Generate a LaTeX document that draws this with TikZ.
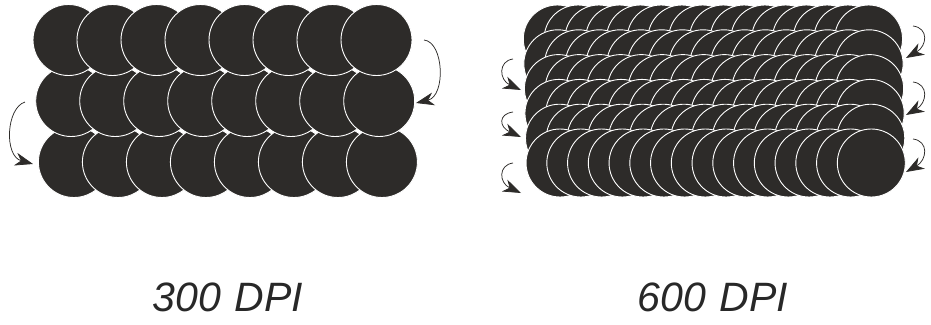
\documentclass[tikz,border=0pt]{standalone}
\usepackage{fontspec}
\setmainfont{Liberation Sans}
\usetikzlibrary{arrows.meta,calc}
\definecolor{ink}{RGB}{45,43,41}
\definecolor{txt}{RGB}{40,40,40}
\tikzset{
  dot/.style={fill=ink, draw=white, line width=0.9pt},
  turn/.style={draw=ink, line width=0.75pt, -{Stealth[length=18pt,width=13pt,inset=5.5pt]}},
  dpitext/.style={font=\fontsize{41}{41}\selectfont\itshape, text=txt, anchor=base, inner sep=0pt}
}
\begin{document}
\begin{tikzpicture}[x=1pt,y=-1pt]
\useasboundingbox (0,0) rectangle (931,324);
% 300 DPI panel: bottom row first, top row last
\foreach \r in {2,1,0}{
  \foreach \c in {0,...,7}{
    \path[dot] ({68.5+2.7*\r+44*\c},{40+61*\r}) circle (35.5);
  }
}
% 600 DPI panel: top row first
\foreach \r in {0,...,5}{
  \foreach \c in {0,...,15}{
    \path[dot] ({557.3+0.55*\r+20.75*\c},{39+24.8*\r}) circle (34);
  }
}
% arrows, 300 DPI
\coordinate (a1s) at (424,40);  \coordinate (a1e) at (416,103);
\coordinate (a2s) at (25,102);  \coordinate (a2e) at (33,164);
\draw[turn] (a1s) .. controls (444,42) and (446,96) .. (a1e);
\draw[turn] (a2s) .. controls (6,108) and (4,156) .. (a2e);
% arrows, 600 DPI right side
\coordinate (r1s) at (913,26);  \coordinate (r1e) at (906,58);
\coordinate (r2s) at (913,82);  \coordinate (r2e) at (906,115);
\coordinate (r3s) at (913,139); \coordinate (r3e) at (906,172);
\foreach \s/\e in {r1s/r1e,r2s/r2e,r3s/r3e}{
  \draw[turn] (\s) .. controls ($(\s)+(16,2)$) and ($(\e)+(21,-12)$) .. (\e);
}
% arrows, 600 DPI left side
\coordinate (l1s) at (513,59);  \coordinate (l1e) at (521,90);
\coordinate (l2s) at (513,112); \coordinate (l2e) at (521,137);
\coordinate (l3s) at (513,163); \coordinate (l3e) at (521,193);
\foreach \s/\e in {l1s/l1e,l2s/l2e,l3s/l3e}{
  \draw[turn] (\s) .. controls ($(\s)+(-15,2)$) and ($(\e)+(-22,-10)$) .. (\e);
}
% labels
\node[dpitext] (t300) at (228,311) {300\hspace{0.33em}DPI};
\node[dpitext] (t600) at (713,311) {600\hspace{0.33em}DPI};
\end{tikzpicture}
\end{document}
